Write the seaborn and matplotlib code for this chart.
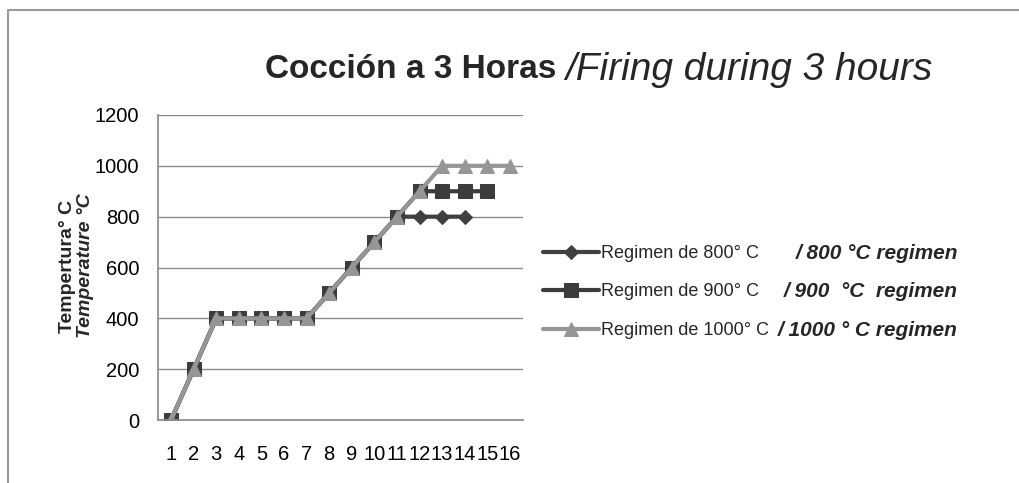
import matplotlib
matplotlib.use("Agg")
import matplotlib.pyplot as plt
import seaborn as sns
import pandas as pd
import numpy as np

# ---- data ----
steps = list(range(1, 17))
temp_800 = [0, 200, 400, 400, 400, 400, 400, 500, 600, 700, 800, 800, 800, 800]
temp_900 = [0, 200, 400, 400, 400, 400, 400, 500, 600, 700, 800, 900, 900, 900, 900]
temp_1000 = [0, 200, 400, 400, 400, 400, 400, 500, 600, 700, 800, 900, 1000, 1000, 1000, 1000]
labels_es = ["Regimen de 800° C", "Regimen de 900° C", "Regimen de 1000° C"]
labels_en = ["/ 800 °C regimen", "/ 900  °C  regimen", "/ 1000 ° C regimen"]
yticks = [0, 200, 400, 600, 800, 1000, 1200]

sns.set_theme(style="white")
plt.rcParams['font.family'] = ['Liberation Sans', 'DejaVu Sans']

W, H = 1019, 483
fig = plt.figure(figsize=(W / 100, H / 100), dpi=100)
fig.patch.set_facecolor("white")

# outer frame lines (top and left)
fig.add_artist(plt.Line2D([8 / W, 1.0], [1 - 10 / H, 1 - 10 / H], transform=fig.transFigure, color="#9a9a9a", lw=1.5))
fig.add_artist(plt.Line2D([8 / W, 8 / W], [0, 1 - 10 / H], transform=fig.transFigure, color="#9a9a9a", lw=1.5))

left, right, top, bottom = 158, 523, 115, 420
ax = fig.add_axes([left / W, 1 - bottom / H, (right - left) / W, (bottom - top) / H])

series = [
    (temp_800, labels_es[0], "#404040", "D", 7),
    (temp_900, labels_es[1], "#3c3c3c", "s", 10.5),
    (temp_1000, labels_es[2], "#969696", "^", 10.5),
]
for vals, lab, col, mk, ms in series:
    df = pd.DataFrame({"step": steps[:len(vals)], "temp": vals})
    sns.lineplot(data=df, x="step", y="temp", ax=ax, color=col, marker=mk,
                 markersize=ms, markeredgecolor=col, lw=3, label=lab)

ax.set_xlim(0.42, 16.58)
ax.set_ylim(0, 1200)
ax.set_yticks(yticks)
ax.set_xticks(steps)
ax.set_xticklabels([str(s) for s in steps])
ax.grid(axis="y", color="#8c8c8c", lw=1)
ax.grid(axis="x", visible=False)
for s in ["top", "right"]:
    ax.spines[s].set_visible(False)
ax.spines["left"].set_color("#8c8c8c")
ax.spines["bottom"].set_color("#8c8c8c")
ax.tick_params(axis="both", labelsize=14.5, colors="black", length=0)
ax.tick_params(axis="y", pad=13.5)
ax.tick_params(axis="x", pad=18)
ax.set_xlabel("")
ax.set_ylabel("")

# y label (two lines)
fig.text(68 / W, 1 - 266 / H, "Tempertura° C", rotation=90, ha="center", va="center",
         fontsize=14, fontweight="bold")
fig.text(85 / W, 1 - 266 / H, "Temperature °C", rotation=90, ha="center", va="center",
         fontsize=14, fontweight="bold", fontstyle="italic")

# title
t1 = fig.text(265 / W, 1 - 70 / H, "Cocción a 3 Horas ", ha="left", va="center",
              fontsize=24, fontweight="bold")
fig.canvas.draw()
r = fig.canvas.get_renderer()
bb = t1.get_window_extent(r)
fig.text(bb.x1 / W, 1 - 70 / H, "/Firing during 3 hours", ha="left", va="center",
         fontsize=28, fontstyle="italic")

# legend
leg = ax.legend(loc="center left", bbox_to_anchor=(543 / W, 1 - 292 / H), bbox_transform=fig.transFigure,
                frameon=False, fontsize=13, handlelength=3.1, handletextpad=0.1, labelspacing=1.2,
                borderaxespad=0, borderpad=0)
fig.canvas.draw()
for txt, en in zip(leg.get_texts(), labels_en):
    e = txt.get_window_extent(r)
    fig.text(958 / W, (e.y0 + e.y1) / 2 / H, en, ha="right", va="center",
             fontsize=15, fontweight="bold", fontstyle="italic")

fig.savefig("out.png", dpi=100)
